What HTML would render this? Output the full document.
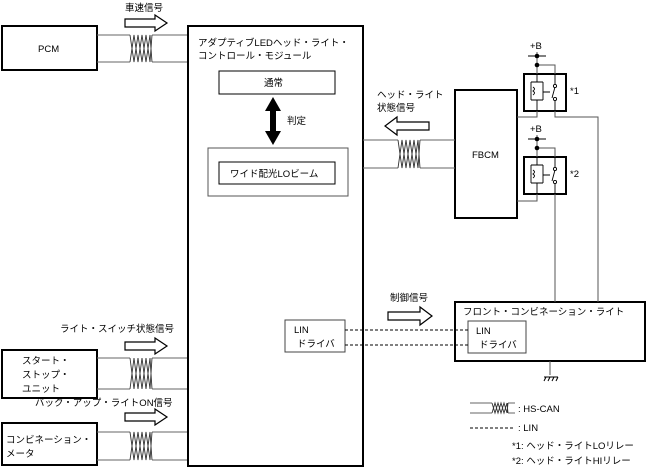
<!DOCTYPE html>
<html><head><meta charset="utf-8"><style>
body{margin:0;background:#fff;}
svg text{font-family:"Liberation Sans","Noto Sans CJK JP",sans-serif;font-size:9.5px;fill:#000;}
</style></head><body>
<svg width="647" height="469" viewBox="0 0 647 469" xmlns="http://www.w3.org/2000/svg">
<defs>
<g id="tw">
 <path d="M0,0 H33 C36,0 36,27 39,27 H0 M0,27 H33" fill="none" stroke="#777" stroke-width="1"/>
</g>
</defs>
<g fill="none" stroke="#000">
 <!-- boxes -->
 <rect x="2" y="26" width="95" height="44" stroke-width="2"/>
 <rect x="188" y="26" width="175" height="440" stroke-width="2"/>
 <rect x="219" y="71" width="116" height="23"/>
 <rect x="208" y="148" width="140" height="48" stroke="#555"/>
 <rect x="219" y="162" width="116" height="22"/>
 <rect x="285" y="320" width="60" height="32" stroke="#444"/>
 <rect x="455" y="90" width="62" height="128" stroke-width="2"/>
 <rect x="455" y="302" width="190" height="59" stroke-width="2"/>
 <rect x="468" y="321" width="58" height="32" stroke="#444"/>
 <rect x="2" y="350" width="95" height="48" stroke-width="2"/>
 <rect x="2" y="423" width="95" height="42" stroke-width="2"/>
 <rect x="524" y="74" width="42" height="37" stroke-width="2"/>
 <rect x="524" y="157" width="42" height="37" stroke-width="2"/>
</g>
<!-- twisted pairs -->
<g fill="none" stroke="#666" stroke-width="1">
 <path d="M97,35 H130 M152,35 H187 M97,62 H130 M152,62 H187"/>
 <path d="M363,140 H398 M420,140 H455 M363,168 H398 M420,168 H455"/>
 <path d="M97,358 H130 M152,358 H187 M97,389 H130 M152,389 H187"/>
 <path d="M97,432 H130 M152,432 H187 M97,460 H130 M152,460 H187"/>
 <path d="M470,403 H492 M508,403 H515 M470,413 H492 M508,413 H515"/>
</g>
<g fill="none" stroke="#333" stroke-width="0.9">
 <path d="M130,35 L134,62 L138,35 L142,62 L146,35 L150,62 L152,35 M130,62 L134,35 L138,62 L142,35 L146,62 L150,35 L152,62"/>
 <path d="M398,140 L402,168 L406,140 L410,168 L414,140 L418,168 L420,140 M398,168 L402,140 L406,168 L410,140 L414,168 L418,140 L420,168"/>
 <path d="M130,358 L134,389 L138,358 L142,389 L146,358 L150,389 L152,358 M130,389 L134,358 L138,389 L142,358 L146,389 L150,358 L152,389"/>
 <path d="M130,432 L134,460 L138,432 L142,460 L146,432 L150,460 L152,432 M130,460 L134,432 L138,460 L142,432 L146,460 L150,432 L152,460"/>
 <path d="M492,403 L495,413 L498,403 L501,413 L504,403 L507,413 L508,403 M492,413 L495,403 L498,413 L501,403 L504,413 L507,403 L508,413"/>
</g>
<!-- hollow arrows -->
<g fill="#fff" stroke="#000" stroke-width="1.2">
 <path d="M125,19 H155 V15 L167,23 L155,31 V27 H125 Z"/>
 <path d="M125,342 H155 V338 L167,346 L155,354 V350 H125 Z"/>
 <path d="M125,413 H155 V409 L167,417 L155,425 V421 H125 Z"/>
 <path d="M388,312 H420 V307 L432,316 L420,325 V320 H388 Z"/>
 <path d="M429,122 H397 V117 L385,126 L397,135 V130 H429 Z"/>
</g>
<!-- double arrow -->
<path d="M273,97 L281,111 H276 V131 H281 L273,145 L265,131 H270 V111 H265 Z" fill="#000"/>
<!-- dashed LIN -->
<g stroke="#000" stroke-dasharray="3,2" fill="none">
 <path d="M345,330 H468 M345,345 H468 M470,428 H515"/>
</g>
<!-- relay wiring -->
<g fill="none" stroke="#555" stroke-width="1">
 <path d="M537,52 V74 M537,65 H555 V74"/>
 <path d="M537,111 V117 H517 M555,111 V117 H598 V302"/>
 <path d="M537,135 V157 M537,148 H555 V157"/>
 <path d="M537,194 V201 H517 M555,194 V302"/>
 <path d="M550,361 V375"/>
</g>
<g stroke="#000" fill="none">
 <path d="M528,56 H546 M528,139 H546"/>
 <path d="M544,377 H558 M546,377 L544,381 M550,377 L548,381 M554,377 L552,381 M558,377 L556,381"/>
</g>
<g fill="#000">
 <circle cx="537" cy="56" r="2.3"/><circle cx="537" cy="65" r="2.3"/>
 <circle cx="537" cy="139" r="2.3"/><circle cx="537" cy="148" r="2.3"/>
</g>
<!-- relay internals -->
<g fill="none" stroke="#000" stroke-width="0.9">
 <path d="M537,74 V82 M531,82 H543 M531,82 V100 M543,82 V100 M531,100 H543 M537,100 V111"/>
 <path d="M533,87 q3,2 0,4 q3,2 0,4 M543,92 H550 M555,74 V85 M555,100 V111 M555,87 L552,98"/>
 <circle cx="555" cy="86" r="1.6" fill="#fff"/><circle cx="555" cy="99" r="1.6" fill="#fff"/>
 <path d="M537,157 V165 M531,165 H543 M531,165 V183 M543,165 V183 M531,183 H543 M537,183 V194"/>
 <path d="M533,170 q3,2 0,4 q3,2 0,4 M543,175 H550 M555,157 V168 M555,183 V194 M555,170 L552,181"/>
 <circle cx="555" cy="169" r="1.6" fill="#fff"/><circle cx="555" cy="182" r="1.6" fill="#fff"/>
</g>
<!-- text -->
<text x="125" y="11">車速信号</text>
<text x="38" y="52">PCM</text>
<text x="198" y="46">アダプティブLEDヘッド・ライト・</text>
<text x="198" y="59">コントロール・モジュール</text>
<text x="264" y="86">通常</text>
<text x="287" y="124">判定</text>
<text x="230" y="177">ワイド配光LOビーム</text>
<text x="377" y="98">ヘッド・ライト</text>
<text x="377" y="111">状態信号</text>
<text x="472" y="158">FBCM</text>
<text x="530" y="49">+B</text>
<text x="530" y="132">+B</text>
<text x="570" y="94">*1</text>
<text x="570" y="177">*2</text>
<text x="390" y="301">制御信号</text>
<text x="463" y="315">フロント・コンビネーション・ライト</text>
<text x="294" y="333">LIN</text>
<text x="297" y="347">ドライバ</text>
<text x="476" y="334">LIN</text>
<text x="479" y="348">ドライバ</text>
<text x="60" y="332">ライト・スイッチ状態信号</text>
<text x="22" y="364">スタート・</text>
<text x="22" y="378">ストップ・</text>
<text x="22" y="392">ユニット</text>
<text x="35" y="406">バック・アップ・ライトON信号</text>
<text x="6" y="443">コンビネーション・</text>
<text x="6" y="457">メータ</text>
<text x="518" y="412">: HS-CAN</text>
<text x="518" y="431">: LIN</text>
<text x="512" y="449">*1: ヘッド・ライトLOリレー</text>
<text x="512" y="464">*2: ヘッド・ライトHIリレー</text>
</svg>
</body></html>
